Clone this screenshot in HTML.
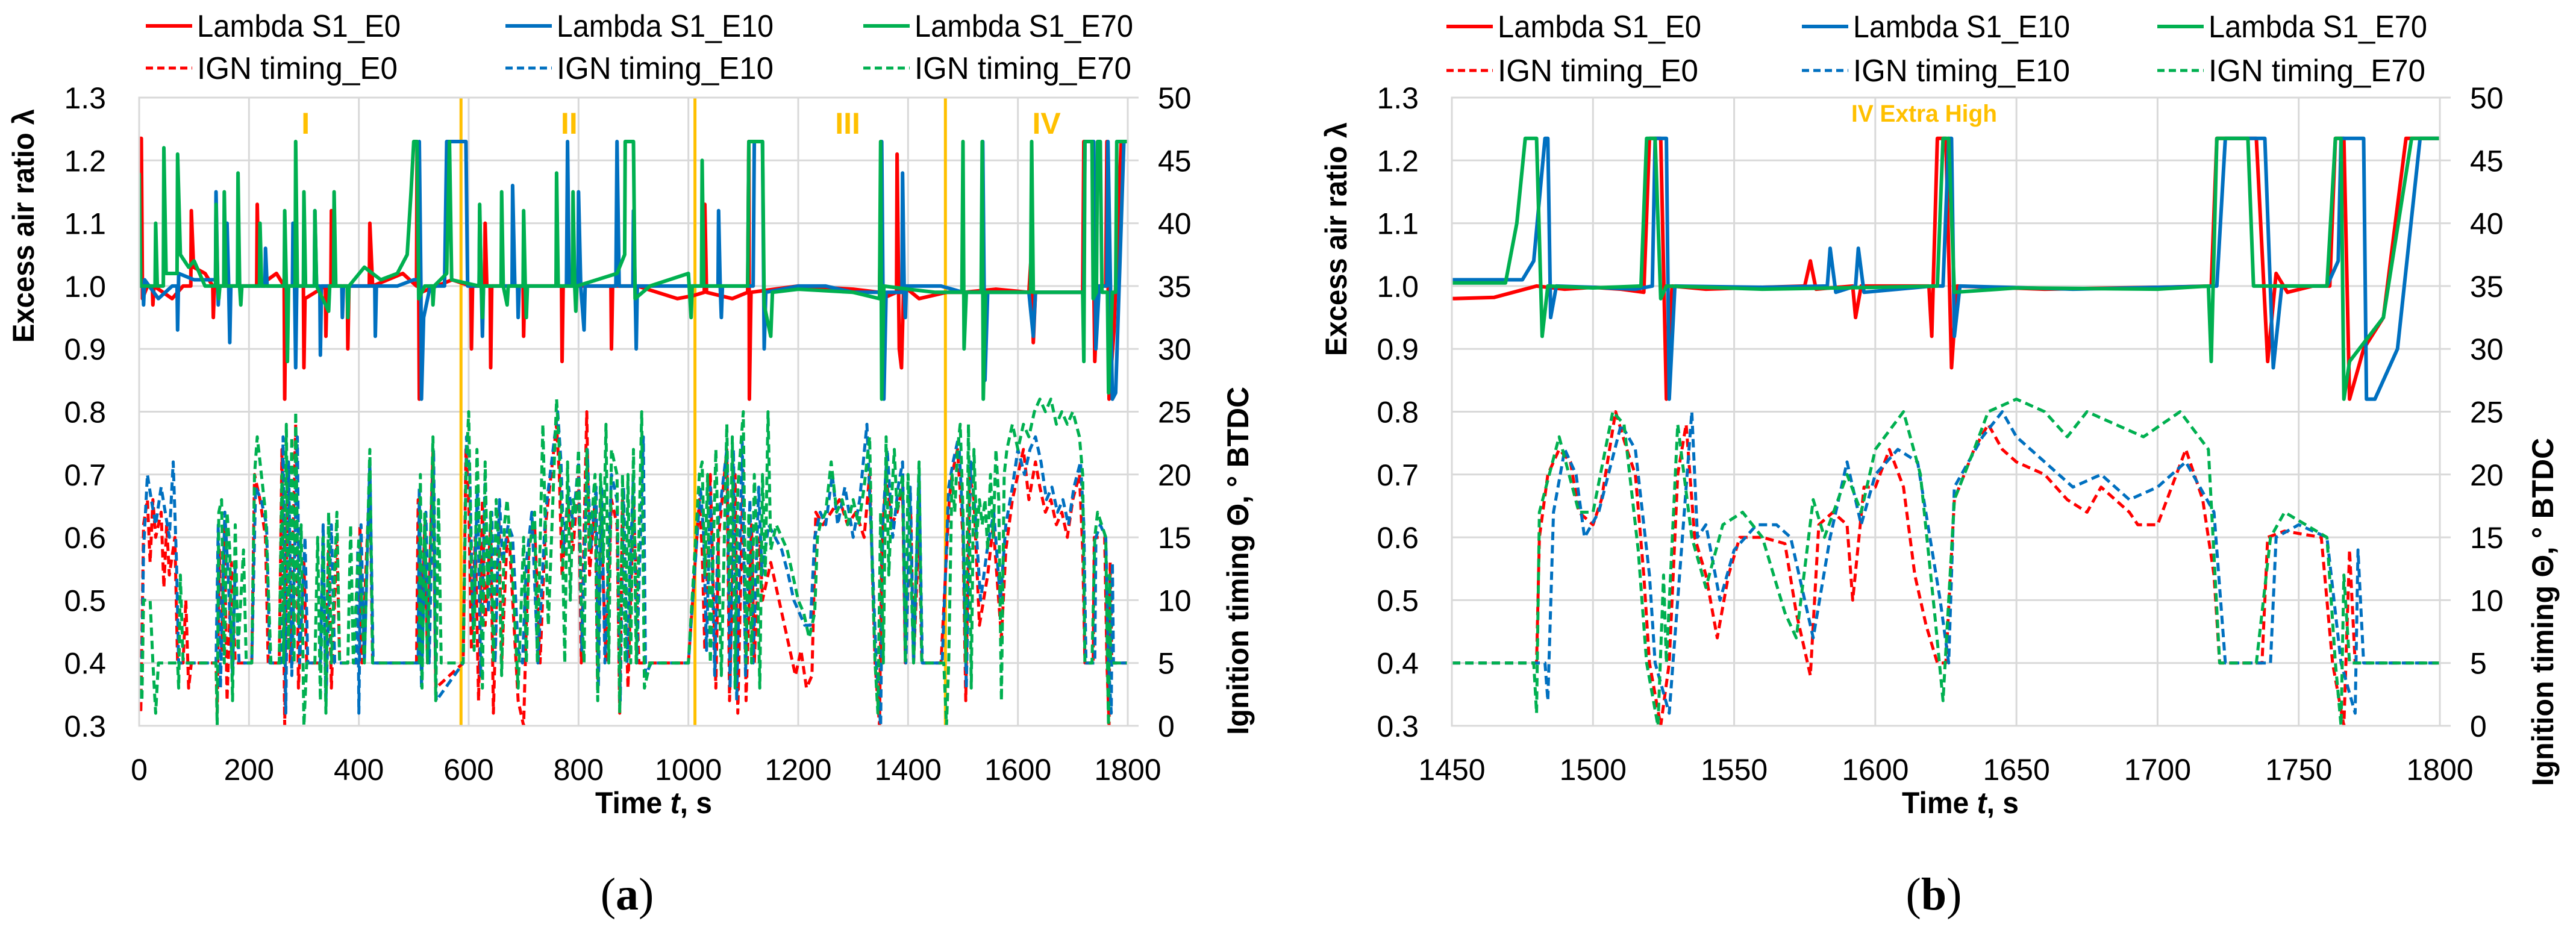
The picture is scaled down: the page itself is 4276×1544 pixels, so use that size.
<!DOCTYPE html>
<html><head><meta charset="utf-8"><style>
html,body{margin:0;padding:0;background:#fff}
svg{display:block}
text{font-family:"Liberation Sans",sans-serif}
text.serif{font-family:"Liberation Serif",serif}
</style></head><body>
<svg id="fig" width="4276" height="1544" viewBox="0 0 4276 1544" xmlns="http://www.w3.org/2000/svg">
<defs>
<clipPath id="clipA"><rect x="231" y="162" width="1641" height="1043"/></clipPath>
<clipPath id="clipB"><rect x="2410" y="162" width="1640" height="1043"/></clipPath>
</defs>
<g id="gA"></g>
<g id="gB"></g>
</svg>
<script>
// ---------- Chart A data ----------
const A_xTicks = [0,200,400,600,800,1000,1200,1400,1600,1800];
const A_phaseT = [586,1012,1468];
const A_phaseLabels = ["I","II","III","IV"];
const A_phaseLabelT = [303,783,1290,1652];
const lamTicks = [0.3,0.4,0.5,0.6,0.7,0.8,0.9,1.0,1.1,1.2,1.3];
const ignTicks = [0,5,10,15,20,25,30,35,40,45,50];

const A_lamE0 = [[0,1.235],[4,1.235],[6,0.98],[15,1.0],[24,1.0],[25,0.97],[27,1.0],[60,0.98],[80,1.0],[94,1.0],[95,1.12],[99,1.03],[120,1.02],[134,1.0],[135,0.95],[137,1.0],[170,1.0],[214,1.0],[215,1.13],[218,1.0],[250,1.02],[264,1.0],[265,0.82],[267,1.0],[299,1.0],[300,0.87],[302,0.98],[339,1.0],[340,0.92],[342,1.0],[349,1.0],[350,1.12],[354,1.0],[379,1.0],[380,0.9],[382,1.0],[419,1.0],[420,1.1],[425,1.0],[480,1.02],[505,1.0],[506,1.23],[509,1.0],[510,0.82],[513,0.99],[570,1.01],[604,1.0],[605,0.9],[607,1.0],[629,1.0],[630,1.1],[633,1.0],[639,1.0],[640,0.87],[642,1.0],[699,1.0],[700,0.92],[702,1.0],[759,1.0],[760,1.05],[763,1.0],[769,1.0],[770,0.88],[772,1.0],[859,1.0],[860,0.9],[862,1.0],[904,1.0],[905,0.95],[907,1.0],[980,0.98],[1010,0.985],[1029,0.99],[1030,1.13],[1033,0.99],[1080,0.98],[1108,0.99],[1110,1.23],[1111,0.82],[1114,0.99],[1200,1.0],[1300,0.995],[1348,0.99],[1350,1.12],[1353,0.98],[1379,0.99],[1380,1.21],[1384,0.9],[1388,0.87],[1392,1.0],[1420,0.98],[1470,0.99],[1500,0.99],[1560,0.995],[1620,0.99],[1625,1.06],[1628,0.91],[1632,0.99],[1700,0.99],[1718,0.99],[1720,1.23],[1735,1.23],[1740,0.88],[1745,1.0],[1760,1.0],[1762,1.23],[1766,0.82],[1775,0.93],[1788,1.23],[1800,1.23]];
const A_lamE10 = [[0,1.0],[7,1.0],[8,0.97],[10,1.01],[35,0.98],[60,1.0],[69,1.0],[70,0.93],[72,1.02],[100,1.01],[139,1.01],[140,1.15],[143,1.0],[144,0.97],[146,1.0],[159,1.0],[160,1.1],[163,1.0],[165,0.91],[167,1.0],[229,1.0],[230,1.06],[233,1.0],[279,1.0],[280,1.1],[283,1.0],[285,0.87],[287,1.0],[319,1.0],[320,1.12],[323,1.0],[329,1.0],[330,0.89],[332,1.0],[369,1.0],[370,0.95],[372,1.0],[429,1.0],[430,0.92],[432,1.0],[470,1.0],[500,1.01],[509,1.01],[510,1.23],[513,1.0],[514,0.82],[518,0.95],[530,1.0],[556,1.0],[560,1.23],[595,1.23],[598,1.0],[619,1.0],[620,1.12],[623,1.0],[625,0.92],[627,1.0],[679,1.0],[680,1.16],[684,1.0],[689,1.0],[690,0.95],[692,1.0],[778,1.0],[780,1.23],[783,1.0],[799,1.0],[800,1.15],[804,1.0],[810,0.93],[812,1.0],[868,1.0],[870,1.23],[874,1.0],[899,1.0],[900,1.12],[903,1.0],[905,0.9],[907,1.0],[1054,1.0],[1055,1.12],[1058,1.0],[1060,0.95],[1062,1.0],[1118,1.0],[1120,1.23],[1135,1.23],[1138,0.9],[1141,0.99],[1200,1.0],[1250,1.0],[1300,0.99],[1350,0.99],[1352,1.23],[1356,0.82],[1360,0.99],[1389,0.99],[1390,1.18],[1393,0.99],[1395,0.95],[1397,1.0],[1460,1.0],[1500,0.99],[1534,0.99],[1536,1.23],[1540,0.85],[1545,0.99],[1620,0.99],[1628,0.92],[1632,0.99],[1700,0.99],[1720,0.99],[1722,1.23],[1738,1.23],[1742,0.9],[1748,1.0],[1762,1.0],[1764,1.23],[1772,0.82],[1778,0.83],[1793,1.23],[1800,1.23]];
const A_lamE70 = [[0,1.18],[3,1.0],[29,1.0],[30,1.1],[33,1.0],[44,1.0],[45,1.22],[49,1.02],[69,1.02],[70,1.21],[75,1.05],[90,1.03],[100,1.04],[120,1.0],[139,1.0],[140,1.13],[143,1.0],[145,0.98],[147,1.0],[154,1.0],[155,1.15],[158,1.0],[179,1.0],[180,1.18],[183,1.0],[185,0.97],[187,1.0],[219,1.0],[220,1.1],[223,1.0],[264,1.0],[265,1.12],[268,1.0],[270,0.88],[272,1.0],[284,1.0],[285,1.23],[288,1.0],[299,1.0],[300,1.15],[303,1.0],[319,1.0],[320,1.12],[323,1.0],[345,0.96],[347,1.0],[354,1.0],[355,1.15],[358,1.0],[379,1.0],[380,0.95],[382,1.0],[410,1.03],[440,1.01],[470,1.02],[488,1.05],[495,1.15],[500,1.23],[506,1.23],[509,0.98],[520,1.0],[534,1.0],[535,0.97],[537,1.0],[560,1.02],[565,1.23],[569,1.01],[619,1.0],[620,1.13],[623,1.0],[625,0.95],[627,1.0],[659,1.0],[660,1.15],[663,1.0],[670,0.97],[672,1.0],[699,1.0],[700,1.12],[703,1.0],[705,0.95],[707,1.0],[759,1.0],[760,1.18],[763,1.0],[789,1.0],[790,1.15],[793,1.0],[795,0.96],[797,1.0],[870,1.02],[884,1.05],[885,1.23],[900,1.23],[903,0.98],[930,1.0],[1000,1.02],[1005,0.95],[1007,1.0],[1024,1.0],[1025,1.2],[1028,1.0],[1108,1.0],[1110,1.23],[1135,1.23],[1138,0.97],[1150,0.92],[1153,0.99],[1200,0.995],[1300,0.99],[1348,0.98],[1350,1.23],[1352,0.82],[1356,1.0],[1400,0.995],[1450,0.99],[1498,0.99],[1500,1.23],[1502,0.9],[1506,0.99],[1533,0.99],[1535,1.23],[1537,0.82],[1541,0.99],[1623,0.99],[1625,1.23],[1628,0.99],[1700,0.99],[1718,0.99],[1720,0.88],[1722,1.23],[1735,1.23],[1737,0.98],[1743,0.99],[1745,1.23],[1750,1.23],[1753,0.99],[1763,0.99],[1765,0.83],[1772,0.99],[1778,0.99],[1780,1.23],[1800,1.23]];

const A_ignE0 = [[0,5],[3,1],[8,16],[15,18],[20,13],[25,18],[30,15],[40,17],[45,11],[50,16],[55,12],[65,15],[70,5],[80,5],[85,10],[90,3],[95,5],[140,5],[142,1],[146,14],[150,6],[155,16],[160,2],[168,13],[175,5],[205,5],[210,20],[220,18],[230,15],[235,5],[255,5],[260,22],[265,0],[270,20],[275,5],[285,24],[290,3],[300,13],[305,5],[340,5],[345,14],[350,3],[360,15],[365,5],[400,5],[402,16],[406,5],[420,20],[425,5],[505,5],[508,18],[512,5],[520,16],[525,5],[535,22],[540,3],[590,5],[595,22],[600,18],[605,6],[612,15],[618,2],[625,18],[630,8],[640,16],[645,1],[655,17],[660,5],[670,15],[675,14],[690,2],[700,0],[705,8],[710,15],[720,16],[730,5],[740,16],[760,24],[765,20],[770,12],[780,18],[790,14],[800,20],[805,5],[815,25],[820,12],[830,18],[835,3],[840,18],[850,5],[860,18],[870,16],[875,1],[880,18],[890,3],[900,18],[910,5],[930,5],[1000,5],[1020,18],[1025,14],[1030,6],[1040,20],[1050,3],[1055,15],[1070,22],[1075,2],[1085,20],[1090,1],[1100,21],[1105,2],[1115,16],[1120,5],[1130,15],[1135,10],[1150,13],[1160,11],[1175,8],[1185,6],[1195,4],[1205,6],[1215,3],[1225,4],[1232,17],[1245,16],[1260,17],[1275,18],[1290,16],[1305,17],[1320,15],[1330,20],[1340,5],[1348,0],[1352,14],[1360,20],[1370,16],[1380,17],[1390,19],[1395,5],[1405,17],[1410,5],[1420,16],[1425,5],[1460,5],[1475,18],[1480,20],[1490,22],[1500,15],[1505,2],[1512,20],[1520,18],[1530,8],[1545,12],[1555,16],[1570,7],[1578,14],[1590,18],[1600,20],[1610,22],[1620,18],[1632,21],[1640,19],[1650,17],[1660,18],[1670,16],[1680,17],[1690,15],[1700,18],[1712,20],[1718,14],[1722,5],[1737,5],[1739,15],[1758,15],[1762,5],[1766,0],[1768,13],[1771,5],[1800,5]];
const A_ignE10 = [[0,5],[4,2],[8,14],[15,20],[22,18],[30,16],[40,19],[55,15],[62,21],[68,13],[72,5],[78,5],[140,5],[144,16],[148,3],[156,17],[162,12],[170,4],[175,13],[182,5],[205,5],[212,19],[222,18],[232,16],[238,5],[258,5],[262,23],[267,1],[272,21],[278,4],[288,23],[292,5],[302,15],[307,5],[330,5],[335,16],[340,2],[350,16],[356,5],[395,5],[398,14],[400,1],[404,16],[410,5],[420,21],[426,5],[508,5],[510,19],[514,3],[522,17],[528,5],[536,22],[541,2],[590,5],[596,23],[602,20],[608,8],[616,19],[622,4],[630,20],[636,9],[642,17],[648,5],[656,18],[662,13],[672,16],[680,15],[690,6],[698,5],[705,13],[715,17],[726,5],[740,17],[762,25],[768,21],[773,14],[782,19],[790,16],[800,21],[806,6],[816,22],[822,14],[832,19],[836,3],[842,19],[848,5],[860,20],[870,18],[876,2],[882,19],[888,5],[900,20],[906,5],[918,23],[922,4],[932,5],[1000,5],[1022,19],[1028,15],[1033,6],[1040,19],[1048,4],[1054,16],[1070,22],[1076,3],[1082,22],[1088,2],[1098,23],[1104,4],[1112,18],[1118,5],[1128,19],[1134,12],[1146,16],[1158,15],[1170,14],[1182,12],[1192,10],[1202,9],[1212,8],[1222,8],[1230,15],[1240,17],[1250,16],[1262,20],[1272,16],[1285,19],[1300,15],[1312,18],[1325,24],[1335,13],[1342,5],[1350,0],[1354,16],[1362,22],[1372,15],[1382,19],[1390,21],[1396,5],[1404,19],[1410,5],[1420,20],[1426,5],[1462,5],[1474,19],[1482,21],[1492,23],[1500,16],[1506,3],[1514,21],[1522,17],[1532,10],[1544,14],[1556,17],[1568,10],[1578,16],[1590,19],[1600,22],[1612,20],[1622,22],[1632,23],[1642,21],[1652,18],[1662,19],[1672,17],[1682,18],[1692,16],[1702,19],[1714,21],[1720,16],[1724,5],[1740,5],[1742,15],[1750,16],[1760,15],[1765,5],[1770,1],[1772,13],[1774,5],[1800,5]];
const A_ignE70 = [[0,5],[5,2],[8,10],[15,10],[20,10],[25,5],[30,1],[35,5],[70,5],[72,3],[75,12],[80,5],[140,5],[142,0],[145,17],[150,18],[155,5],[160,17],[165,14],[170,2],[175,16],[180,6],[190,14],[195,5],[205,5],[210,20],[215,23],[220,21],[230,17],[240,5],[255,5],[260,20],[263,5],[268,24],[272,6],[278,23],[282,5],[285,25],[290,8],[295,16],[300,0],[305,5],[320,5],[325,15],[330,2],[335,15],[340,1],[345,17],[350,5],[360,17],[365,5],[380,5],[385,16],[390,5],[400,15],[410,5],[420,22],[425,5],[510,5],[512,20],[515,3],[520,17],[525,5],[535,23],[540,2],[545,18],[550,5],[590,5],[595,20],[600,25],[605,12],[610,6],[615,22],[620,15],[625,3],[630,21],[635,10],[640,17],[645,5],[650,18],[655,14],[660,4],[665,16],[670,18],[680,12],[690,3],[700,15],[705,5],[710,14],[720,17],[725,5],[735,24],[740,15],[745,8],[760,26],[765,22],[770,16],[775,5],[780,21],[785,10],[790,18],[795,17],[800,22],[805,10],[810,5],[815,22],[820,14],[830,20],[835,2],[840,20],[845,13],[850,24],[855,5],[860,22],[870,20],[875,1],[880,20],[885,5],[890,20],[895,5],[900,22],[905,5],[915,25],[920,3],[930,5],[1000,5],[1020,20],[1025,21],[1030,12],[1035,20],[1040,5],[1050,22],[1055,13],[1060,4],[1070,24],[1075,10],[1080,23],[1085,3],[1090,19],[1100,25],[1105,5],[1110,17],[1115,5],[1120,20],[1125,14],[1130,3],[1135,20],[1140,12],[1145,25],[1150,14],[1160,16],[1170,15],[1180,14],[1190,12],[1200,10],[1210,9],[1220,7],[1230,9],[1235,15],[1240,16],[1250,17],[1260,21],[1270,17],[1280,18],[1290,16],[1300,18],[1310,16],[1320,19],[1330,23],[1335,12],[1340,5],[1345,1],[1350,17],[1355,5],[1360,23],[1365,12],[1370,18],[1375,22],[1380,17],[1390,20],[1395,5],[1400,20],[1410,5],[1420,21],[1425,5],[1465,5],[1470,0],[1474,5],[1480,20],[1485,17],[1490,22],[1495,24],[1500,17],[1505,5],[1510,24],[1515,3],[1520,22],[1525,15],[1530,18],[1535,16],[1540,18],[1545,14],[1550,20],[1555,15],[1560,22],[1565,18],[1570,2],[1575,20],[1580,22],[1590,24],[1600,22],[1610,24],[1620,23],[1630,25],[1640,26],[1650,25],[1660,26],[1670,24],[1680,25],[1690,24],[1700,25],[1712,23],[1718,20],[1722,5],[1735,5],[1740,15],[1745,17],[1760,15],[1763,5],[1765,0],[1767,12],[1769,5],[1800,5]];

// ---------- Chart B data ----------
const B_xTicks = [1450,1500,1550,1600,1650,1700,1750,1800];
const B_lamE0 = [[1450,0.98],[1465,0.982],[1480,1.0],[1490,0.995],[1500,0.998],[1510,0.995],[1518,0.99],[1520,1.235],[1524,1.235],[1526,0.82],[1528,1.0],[1540,0.995],[1560,0.998],[1575,1.0],[1577,1.04],[1579,0.995],[1592,1.0],[1593,0.95],[1595,1.0],[1619,1.0],[1620,0.92],[1622,1.235],[1625,1.235],[1627,0.87],[1629,1.0],[1660,0.995],[1700,0.998],[1719,1.0],[1721,1.235],[1735,1.235],[1739,0.88],[1742,1.02],[1746,0.99],[1755,1.0],[1761,1.0],[1763,1.235],[1766,1.235],[1768,0.82],[1773,0.9],[1780,0.95],[1788,1.235],[1800,1.235]];
const B_lamE10 = [[1450,1.01],[1475,1.01],[1479,1.04],[1483,1.235],[1484,1.235],[1485,0.95],[1487,1.0],[1500,0.998],[1515,0.995],[1521,1.0],[1522,1.235],[1526,1.235],[1527,0.82],[1529,1.0],[1560,0.998],[1583,1.0],[1584,1.06],[1586,0.99],[1593,1.0],[1594,1.06],[1596,0.99],[1620,1.0],[1624,1.0],[1626,1.235],[1627,1.235],[1628,0.92],[1630,1.0],[1670,0.995],[1721,1.0],[1724,1.235],[1738,1.235],[1741,0.87],[1744,1.0],[1760,1.0],[1764,1.04],[1765,1.235],[1773,1.235],[1774,0.82],[1777,0.82],[1785,0.9],[1793,1.235],[1800,1.235]];
const B_lamE70 = [[1450,1.005],[1469,1.005],[1473,1.1],[1476,1.235],[1480,1.235],[1482,0.92],[1484,1.0],[1500,0.997],[1517,1.0],[1519,1.235],[1522,1.235],[1524,0.98],[1526,1.0],[1560,0.995],[1600,0.998],[1622,1.0],[1624,1.235],[1626,1.235],[1628,0.99],[1650,0.997],[1700,0.995],[1718,1.0],[1719,0.88],[1721,1.235],[1732,1.235],[1734,1.0],[1760,1.0],[1763,1.235],[1765,1.235],[1766,0.82],[1768,0.88],[1780,0.95],[1790,1.235],[1800,1.235]];
const B_ignE0 = [[1450,5],[1480,5],[1481,15],[1484,20],[1488,22],[1492,21],[1495,17],[1500,16],[1503,18],[1508,25],[1512,22],[1515,20],[1518,12],[1520,5],[1524,0],[1527,5],[1530,20],[1533,24],[1536,15],[1540,12],[1544,7],[1548,12],[1552,15],[1560,15],[1568,14.5],[1572,9],[1577,4],[1580,16],[1585,17],[1590,16],[1592,10],[1596,19],[1600,19],[1605,22],[1610,19],[1614,12],[1618,8],[1622,5],[1625,5],[1628,18],[1635,22],[1640,24],[1645,22],[1650,21],[1660,20],[1668,18],[1675,17],[1680,19],[1690,17],[1693,16],[1700,16],[1710,22],[1716,18],[1720,12],[1722,5],[1737,5],[1739,15],[1745,15.5],[1758,15],[1762,5],[1766,0],[1768,14],[1770,5],[1800,5]];
const B_ignE10 = [[1450,5],[1483,5],[1484,2],[1486,17],[1490,22],[1494,20],[1497,15],[1502,17],[1510,24],[1515,22],[1520,12],[1522,5],[1527,1],[1535,25],[1537,15],[1540,16],[1545,10],[1550,14],[1558,16],[1565,16],[1570,15],[1578,7],[1584,15],[1590,21],[1595,16],[1600,20],[1608,22],[1615,21],[1623,10],[1626,5],[1628,19],[1638,23],[1645,25],[1650,23],[1660,21],[1670,19],[1680,20],[1690,18],[1700,19],[1710,21],[1720,17],[1724,5],[1740,5],[1742,15],[1750,16],[1760,15],[1765,5],[1770,1],[1771,14],[1773,5],[1800,5]];
const B_ignE70 = [[1450,5],[1479,5],[1480,1],[1481,17],[1488,23],[1495,17],[1500,17],[1507,25],[1511,24],[1516,14],[1519,5],[1523,0],[1525,12],[1526,5],[1530,24],[1535,15],[1540,11],[1546,16],[1553,17],[1560,15],[1568,9],[1572,7],[1578,18],[1582,15],[1590,20],[1595,17],[1600,22],[1610,25],[1616,20],[1621,9],[1624,2],[1628,18],[1635,22],[1640,25],[1650,26],[1660,25],[1668,23],[1675,25],[1685,24],[1695,23],[1708,25],[1718,22],[1722,5],[1735,5],[1740,15],[1745,17],[1760,15],[1763,5],[1765,0],[1766,12],[1768,5],[1800,5]];

const RED="#FF0000", BLUE="#0070C0", GREEN="#00B050", ORANGE="#FFC000";
const NS="http://www.w3.org/2000/svg";
function mk(parent,tag,attrs,txt){const e=document.createElementNS(NS,tag);for(const k in attrs)e.setAttribute(k,attrs[k]);if(txt!==undefined)e.textContent=txt;parent.appendChild(e);return e;}

function drawChart(g, cfg){
  const L=cfg.left, R=cfg.right, T=162, B=1205;
  const x=t=>L+(t-cfg.t0)/(cfg.t1-cfg.t0)*(R-L);
  const yL=v=>B-(v-0.3)/1.0*(B-T);
  const yR=v=>B-v/50*(B-T);
  lamTicks.forEach(v=>{const ln=mk(g,'line',{x1:L,x2:R+18,y1:yL(v),y2:yL(v),stroke:'#D9D9D9','stroke-width':3});
    
    });
  cfg.xTicks.forEach(t=>{const ln=mk(g,'line',{x1:x(t),x2:x(t),y1:T,y2:B,stroke:'#D9D9D9','stroke-width':3});
    
    });
  lamTicks.forEach(v=>{const tx=mk(g,'text',{x:L-55,y:yL(v)+18,'text-anchor':'end','font-size':50},v.toFixed(1));
    
    });
  ignTicks.forEach(v=>{const tx=mk(g,'text',{x:R+50,y:yR(v)+18,'font-size':50},String(v));
    
    });
  cfg.xTicks.forEach(t=>{const tx=mk(g,'text',{x:x(t),y:1295,'text-anchor':'middle','font-size':50},String(t));
    
    });
  (cfg.phaseT||[]).forEach(t=>{const ln=mk(g,'line',{x1:x(t),x2:x(t),y1:T,y2:B,stroke:ORANGE,'stroke-width':5});
    
    });
  (cfg.phaseLabels||[]).forEach((s,i)=>{const tx=mk(g,'text',{x:x(cfg.phaseLabelT[i]),y:222,'text-anchor':'middle','font-size':50,'font-weight':'bold',fill:ORANGE},s);
    
    });
  const clip=mk(g,'g',{'clip-path':cfg.clip});
  
  
  const series=[
    [cfg.ignE0,RED,true,'ign-e0'],[cfg.ignE10,BLUE,true,'ign-e10'],[cfg.ignE70,GREEN,true,'ign-e70'],
    [cfg.lamE0,RED,false,'lambda-e0'],[cfg.lamE10,BLUE,false,'lambda-e10'],[cfg.lamE70,GREEN,false,'lambda-e70']];
  series.forEach(([d,c,dash,name])=>{
    const pts=d.map(p=>x(p[0]).toFixed(1)+','+(dash?yR(p[1]):yL(p[1])).toFixed(1)).join(' ');
    const a={points:pts,fill:'none',stroke:c,'stroke-width':dash?5:6,'stroke-linejoin':'round'};
    if(dash)a['stroke-dasharray']='14 8';
    const pl=mk(clip,'polyline',a);
    
    
  });
  const bd=mk(g,'rect',{x:L,y:T,width:R-L,height:B-T,fill:'none',stroke:'#D9D9D9','stroke-width':3});
  
  
  let t1=mk(g,'text',{transform:`translate(${cfg.ylx},${cfg.yly}) rotate(-90)`,'text-anchor':'middle','font-size':50,'font-weight':'bold',textLength:388,lengthAdjust:'spacingAndGlyphs'},'Excess air ratio λ');
  
  
  let t2=mk(g,'text',{transform:`translate(${cfg.yrx},${cfg.yry}) rotate(-90)`,'text-anchor':'middle','font-size':50,'font-weight':'bold',textLength:578,lengthAdjust:'spacingAndGlyphs'},'Ignition timing Θ, ° BTDC');
  
  
  let xt=mk(g,'text',{x:cfg.xtx,y:1350,'text-anchor':'middle','font-size':50,'font-weight':'bold',textLength:194,lengthAdjust:'spacingAndGlyphs'});
  
  
  mk(xt,'tspan',{},'Time ');mk(xt,'tspan',{'font-style':'italic'},'t');mk(xt,'tspan',{},', s');
  let cap=mk(g,'text',{x:cfg.xtx-44,y:1510,'text-anchor':'middle','font-size':76,'class':'serif'});
  
  
  mk(cap,'tspan',{},'(');mk(cap,'tspan',{'font-weight':'bold'},cfg.cap);mk(cap,'tspan',{},')');
  const leg=mk(g,'g',{});
  
  
  const items=[['Lambda S1_E0',RED,false,0,0,338],['Lambda S1_E10',BLUE,false,1,0,360],['Lambda S1_E70',GREEN,false,2,0,363],
               ['IGN timing_E0',RED,true,0,1,333],['IGN timing_E10',BLUE,true,1,1,360],['IGN timing_E70',GREEN,true,2,1,360]];
  items.forEach(([s,c,dash,col,row,w])=>{
    const lx=cfg.legX[col], ly=cfg.legY[row];
    const e=mk(leg,'g',{});
    
    
    const a={x1:lx,x2:lx+77,y1:ly,y2:ly,stroke:c,'stroke-width':dash?5:6};
    if(dash)a['stroke-dasharray']='12 7';
    mk(e,'line',a);
    mk(e,'text',{x:lx+85,y:ly+18,'font-size':52,textLength:w,lengthAdjust:'spacingAndGlyphs'},s);
  });
}

drawChart(document.getElementById('gA'),{left:231,right:1872,t0:0,t1:1800,xTicks:A_xTicks,clip:'url(#clipA)',
  phaseT:A_phaseT,phaseLabels:A_phaseLabels,phaseLabelT:A_phaseLabelT,
  lamE0:A_lamE0,lamE10:A_lamE10,lamE70:A_lamE70,ignE0:A_ignE0,ignE10:A_ignE10,ignE70:A_ignE70,
  ylx:56,yly:375,yrx:2072,yry:931,xtx:1085,cap:'a',legX:[242,839,1433],legY:[43,113]});
drawChart(document.getElementById('gB'),{left:2410,right:4050,t0:1450,t1:1800,xTicks:B_xTicks,clip:'url(#clipB)',
  lamE0:B_lamE0,lamE10:B_lamE10,lamE70:B_lamE70,ignE0:B_ignE0,ignE10:B_ignE10,ignE70:B_ignE70,
  ylx:2235,yly:397,yrx:4238,yry:1016,xtx:3254,cap:'b',legX:[2401,2991,3581],legY:[44,117]});
const ex=document.createElementNS(NS,'text');


ex.setAttribute('x','3194');ex.setAttribute('y','202');ex.setAttribute('text-anchor','middle');
ex.setAttribute('font-size','40');ex.setAttribute('font-weight','bold');ex.setAttribute('fill',ORANGE);
ex.setAttribute('textLength','242');ex.setAttribute('lengthAdjust','spacingAndGlyphs');
ex.textContent='IV Extra High';
document.getElementById('gB').appendChild(ex);
</script>
</body></html>
